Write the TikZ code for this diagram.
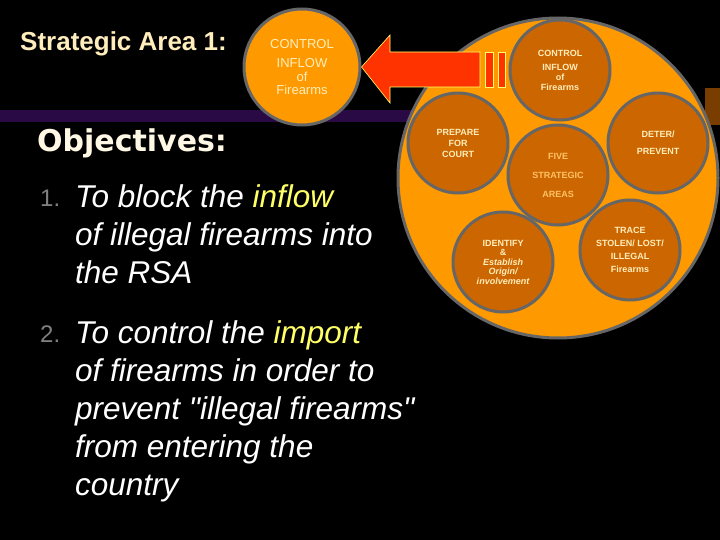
\documentclass[tikz,border=0pt]{standalone}
\usepackage{fontspec}
\setmainfont{Liberation Sans}[Ligatures=NoCommon]
\newfontfamily\plainq{Liberation Sans}[Mapping=]
\newfontfamily\verd{DejaVu Sans}
\begin{document}
\begin{tikzpicture}[x=1pt,y=-1pt,
  inner/.style={circle,fill=ocdark,draw=ogray,line width=3pt,minimum size=100pt,inner sep=0pt,align=center,text=ctext,font=\bfseries\fontsize{9}{11}\selectfont},
  body/.style={anchor=north west,text=white,font=\itshape\fontsize{31.5}{38}\selectfont,align=left,inner sep=0pt}]
\definecolor{obig}{HTML}{FF9900}
\definecolor{ocdark}{HTML}{CC6600}
\definecolor{ogray}{HTML}{666666}
\definecolor{ctext}{HTML}{FFEEBB}
\definecolor{ylw}{HTML}{FFFF66}
\definecolor{ared}{HTML}{FF3300}
\definecolor{pbar}{HTML}{2A0A45}
\fill[black] (0,0) rectangle (720,540);
\useasboundingbox (0,0) rectangle (720,540);
\fill[pbar] (0,110) rectangle (420,122);
\fill[ocdark!60!black] (705,88) rectangle (720,125);
\node[circle,fill=obig,draw=ogray,line width=3pt,minimum size=320pt] (big) at (558,178) {};
\node[inner,font=\bfseries\fontsize{9}{10}\selectfont] (c1) at (560,70) {CONTROL\\[4pt]INFLOW\\of\\Firearms};
\node[inner] (c2) at (458,143) {PREPARE\\FOR\\COURT};
\node[inner,text=obig!60!white] (c3) at (558,175) {FIVE\\[8pt]STRATEGIC\\[8pt]AREAS};
\node[inner] (c4) at (658,143) {DETER/\\[6pt]PREVENT};
\node[inner,font=\bfseries\itshape\fontsize{9}{9.5}\selectfont] (c5) at (503,262) {\upshape IDENTIFY\\\upshape \&\\Establish\\Origin/\\involvement};
\node[inner] (c6) at (630,250) {TRACE\\[2pt]STOLEN/ LOST/\\[2pt]ILLEGAL\\[2pt]Firearms};
\node[circle,fill=obig,draw=ogray,line width=3pt,minimum size=116pt,align=center,text=ctext,font=\fontsize{13}{13.5}\selectfont] (lc) at (302,67) {CONTROL\\[6pt]INFLOW\\of\\Firearms};
\fill[ared,draw=ylw,line width=0.6pt] (lc.east) -- (390,35) -- (390,52) -- (480,52) -- (480,87) -- (390,87) -- (390,103) -- cycle;
\fill[ared,draw=ylw,line width=0.6pt] (485,52) rectangle (493,87);
\fill[ared,draw=ylw,line width=0.6pt] (498,52) rectangle (505,87);
\node[anchor=west,text=ctext,font=\bfseries\fontsize{26}{28}\selectfont,inner sep=0pt] (t) at (20,44) {Strategic Area 1:};
\node[anchor=west,text=ctext!40!white,font=\verd\bfseries\fontsize{30}{32}\selectfont,inner sep=0pt] (o) at (37,143) {Objectives:};
\node[anchor=north west,text=gray,font=\fontsize{24}{30}\selectfont,inner sep=0pt] (n1) at (40,190) {1.};
\node[body] (b1) at (75,184) {To block the \textcolor{ylw}{inflow}\\of illegal firearms into\\the RSA};
\node[anchor=north west,text=gray,font=\fontsize{24}{30}\selectfont,inner sep=0pt] (n2) at (40,326) {2.};
\node[body] (b2) at (75,320) {To control the \textcolor{ylw}{import}\\of firearms in order to\\prevent {\plainq\itshape"}illegal firearms{\plainq\itshape"}\\from entering the\\country};
\end{tikzpicture}
\end{document}
